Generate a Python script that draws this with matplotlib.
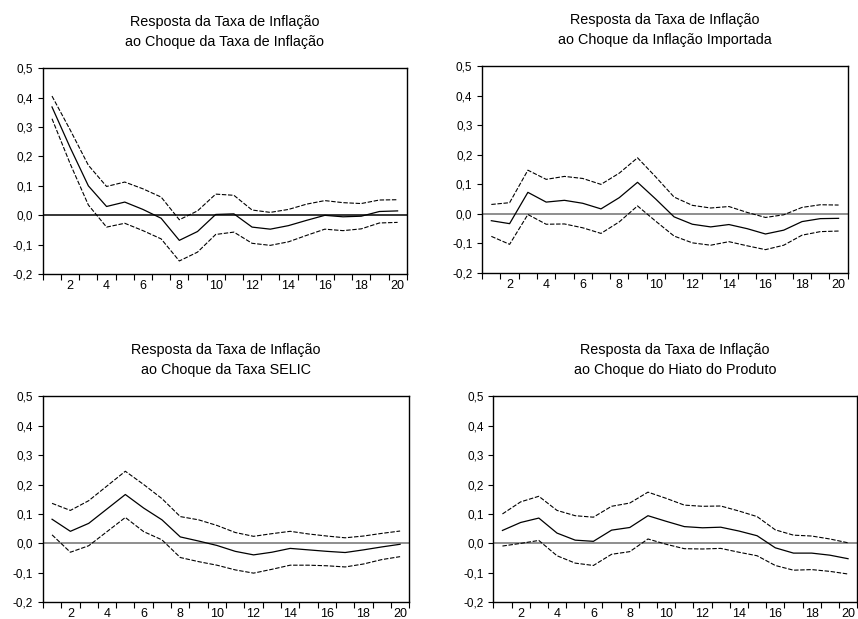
import matplotlib.pyplot as plt
from matplotlib.ticker import FixedLocator, FuncFormatter
import numpy as np

plt.rcParams["font.family"] = ["Liberation Sans", "DejaVu Sans"]

periods = np.arange(1, 21)

titles = [
    "Resposta da Taxa de Inflação\nao Choque da Taxa de Inflação",
    "Resposta da Taxa de Inflação\nao Choque da Inflação Importada",
    "Resposta da Taxa de Inflação\nao Choque da Taxa SELIC",
    "Resposta da Taxa de Inflação\nao Choque do Hiato do Produto",
]

# resposta a choque da taxa de inflacao
infl_resp = [0.368, 0.23, 0.10, 0.03, 0.045, 0.02, -0.01, -0.085, -0.055, 0.003,
             0.005, -0.04, -0.047, -0.035, -0.017, 0.0, -0.005, -0.003, 0.013, 0.015]
infl_up = [0.405, 0.29, 0.17, 0.098, 0.113, 0.09, 0.062, -0.015, 0.015, 0.072,
           0.068, 0.018, 0.01, 0.02, 0.038, 0.05, 0.043, 0.04, 0.052, 0.053]
infl_lo = [0.328, 0.175, 0.035, -0.04, -0.027, -0.052, -0.08, -0.155, -0.125, -0.065,
           -0.057, -0.095, -0.102, -0.09, -0.068, -0.047, -0.052, -0.046, -0.026, -0.024]

# inflacao importada
imp_resp = [-0.023, -0.033, 0.073, 0.04, 0.046, 0.036, 0.017, 0.055, 0.107, 0.05,
            -0.01, -0.035, -0.044, -0.036, -0.05, -0.068, -0.055, -0.026, -0.016, -0.015]
imp_up = [0.032, 0.038, 0.148, 0.117, 0.127, 0.12, 0.10, 0.138, 0.19, 0.125,
          0.057, 0.029, 0.02, 0.025, 0.005, -0.012, -0.003, 0.022, 0.031, 0.03]
imp_lo = [-0.076, -0.103, -0.002, -0.035, -0.034, -0.047, -0.066, -0.027, 0.027, -0.025,
          -0.075, -0.098, -0.106, -0.094, -0.108, -0.121, -0.106, -0.072, -0.06, -0.058]

# taxa SELIC
selic_resp = [0.082, 0.041, 0.068, 0.117, 0.166, 0.12, 0.08, 0.022, 0.008, -0.007,
              -0.027, -0.039, -0.03, -0.017, -0.022, -0.027, -0.031, -0.022, -0.012, -0.003]
selic_up = [0.136, 0.112, 0.145, 0.195, 0.245, 0.2, 0.152, 0.091, 0.08, 0.061,
            0.037, 0.024, 0.033, 0.041, 0.032, 0.025, 0.019, 0.025, 0.034, 0.042]
selic_lo = [0.029, -0.03, -0.008, 0.04, 0.088, 0.04, 0.012, -0.048, -0.062, -0.074,
            -0.09, -0.101, -0.088, -0.074, -0.074, -0.076, -0.08, -0.07, -0.055, -0.045]

# hiato do produto
hiato_resp = [0.044, 0.071, 0.086, 0.035, 0.011, 0.007, 0.045, 0.054, 0.094, 0.075,
              0.057, 0.053, 0.055, 0.042, 0.026, -0.015, -0.033, -0.033, -0.04, -0.052]
hiato_up = [0.10, 0.141, 0.16, 0.112, 0.094, 0.089, 0.126, 0.137, 0.174, 0.153,
            0.13, 0.126, 0.127, 0.11, 0.091, 0.046, 0.028, 0.025, 0.015, 0.002]
hiato_lo = [-0.009, 0.0, 0.01, -0.042, -0.067, -0.075, -0.037, -0.028, 0.015, -0.003,
            -0.018, -0.019, -0.017, -0.03, -0.042, -0.075, -0.091, -0.089, -0.095, -0.104]

panels = [
    (infl_resp, infl_up, infl_lo),
    (imp_resp, imp_up, imp_lo),
    (selic_resp, selic_up, selic_lo),
    (hiato_resp, hiato_up, hiato_lo),
]

# [left, bottom, width, height] em fracao da figura
positions = [
    [0.050, 0.557, 0.424, 0.333],
    [0.562, 0.559, 0.426, 0.334],
    [0.050, 0.027, 0.427, 0.333],
    [0.575, 0.027, 0.424, 0.333],
]
zero_colors = ["black", "#707070", "#707070", "#707070"]

fig = plt.figure(figsize=(8.58, 6.19), dpi=100)

comma = FuncFormatter(lambda v, p: f"{v:.1f}".replace(".", ","))

for i, (resp, up, lo) in enumerate(panels):
    ax = fig.add_axes(positions[i])
    ax.axhline(0, color=zero_colors[i], lw=1.1, zorder=1)
    ax.plot(periods, resp, color="black", lw=0.9)
    ax.plot(periods, up, color="black", lw=0.8, ls=(0, (4, 1.5)))
    ax.plot(periods, lo, color="black", lw=0.8, ls=(0, (4, 1.5)))

    ax.set_xlim(0.5, 20.5)
    ax.set_ylim(-0.2, 0.5)
    ax.set_yticks(np.arange(-0.2, 0.51, 0.1))
    ax.yaxis.set_major_formatter(comma)
    ax.set_xticks(np.arange(2, 21, 2))
    ax.xaxis.set_minor_locator(FixedLocator(np.arange(0.5, 21, 1)))
    ax.tick_params(axis="x", which="major", length=0, labelsize=9, pad=4)
    ax.tick_params(axis="x", which="minor", length=4.5, width=0.8, direction="out")
    ax.tick_params(axis="y", length=3.5, width=0.8, direction="out", labelsize=8.5)
    for s in ax.spines.values():
        s.set_linewidth(1.0)
    ax.set_title(titles[i], fontsize=10.4, pad=16, linespacing=1.55)

fig.savefig("out.png", dpi=100)
